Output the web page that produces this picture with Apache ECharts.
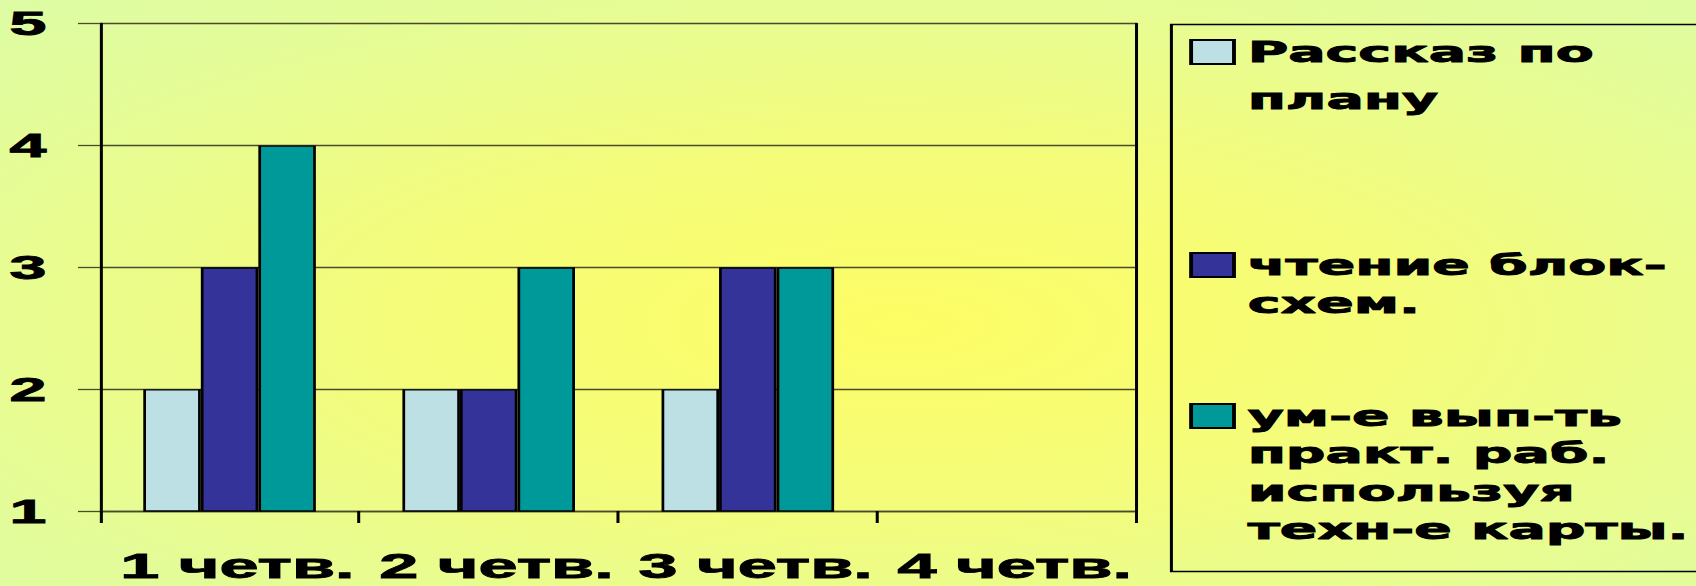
<!DOCTYPE html>
<html>
<head>
<meta charset="utf-8">
<script src="https://cdn.jsdelivr.net/npm/echarts@6/dist/echarts.min.js"></script>
<style>
  html, body { margin: 0; padding: 0; overflow: hidden; background: #e4fc9c; }
  /* the original slide is stretched sideways, so the chart is drawn narrow and scaled */
  #echart { width: 870px; height: 586px; transform: scaleX(1.94943); transform-origin: 0 0; }
</style>
</head>
<body>
<div id="echart"></div>
<script>
const categories = ['1 четв.', '2 четв.', '3 четв.', '4 четв.'];
const seriesNames = [
  'Рассказ по\nплану',
  'чтение блок-\nсхем.',
  'ум-е вып-ть\nпракт. раб.\nиспользуя\nтехн-е карты.'
];
const rasskaz = [2, 2, 2, null];
const chtenie = [3, 2, 3, null];
const umenie = [4, 3, 3, null];
const seriesData = [rasskaz, chtenie, umenie];
const colors = ['#bce0e4', '#343399', '#009999'];
const yMin = 1, yMax = 5, yStep = 1;

const gridLine = { color: '#4a4a2c', width: 1.3 };
const blackLine = { color: '#000', width: 1.55 };
const heavy = { color: '#000', fontWeight: 'bold', textBorderColor: '#000', textBorderWidth: 0.9 };

// one legend per series so the first text line can sit on the marker
const legendCenters = [52, 265, 416];
const legendLineHeights = [47, 38, 37.5];

const legends = seriesNames.map((name, i) => {
  const n = name.split('\n').length;
  const lh = legendLineHeights[i];
  return {
    data: [name],
    orient: 'vertical',
    left: 610,
    top: legendCenters[i] - (2 * n - 1) * lh / 2,
    padding: 0,
    itemWidth: 22,
    itemHeight: 24,
    icon: 'rect',
    selectedMode: false,
    // blank lines above keep the block centred on the first line
    formatter: (label) => '\n'.repeat(n - 1) + label,
    textStyle: {
      ...heavy,
      fontFamily: 'DejaVu Sans',
      fontSize: 28.4,
      lineHeight: lh,
      padding: [0, 0, 0, 2]
    }
  };
});

const option = {
  animation: false,
  backgroundColor: {
    type: 'radial', x: 0.53, y: 0.555, r: 1.0,
    colorStops: [
      { offset: 0, color: '#fdfd64' },
      { offset: 0.3, color: '#f4fc7a' },
      { offset: 0.6, color: '#e4fc98' },
      { offset: 1, color: '#d2fcb4' }
    ]
  },
  textStyle: { fontFamily: 'Liberation Sans' },
  grid: { left: 51.3, right: 287, top: 23.5, bottom: 75 },
  legend: legends,
  graphic: [{
    type: 'rect', left: 598.4, top: 22, z: -1,
    shape: { x: 0, y: 0, width: 300, height: 547 },
    style: { fill: 'none', stroke: '#000', lineWidth: 1.55 }
  }],
  xAxis: {
    type: 'category',
    data: categories,
    axisLine: { show: true, lineStyle: gridLine },
    axisTick: { show: true, length: 12, lineStyle: blackLine },
    axisLabel: {
      ...heavy,
      interval: 0, margin: 40, lineHeight: 30, fontSize: 36,
      padding: [0, 0, 0, 8], fontFamily: 'Liberation Sans'
    }
  },
  yAxis: [{
    type: 'value', min: yMin, max: yMax, interval: yStep,
    axisLine: { show: true, lineStyle: blackLine },
    axisTick: { show: true, length: 11.3, lineStyle: gridLine },
    splitLine: { show: true, lineStyle: gridLine },
    axisLabel: {
      ...heavy,
      margin: 27.5, fontSize: 34, fontFamily: 'Liberation Sans'
    }
  }, {
    type: 'value', position: 'right', min: yMin, max: yMax, interval: yStep,
    axisLine: { show: true, lineStyle: blackLine },
    axisTick: { show: false }, axisLabel: { show: false }, splitLine: { show: false }
  }],
  series: seriesNames.map((name, i) => ({
    name: name,
    type: 'bar',
    data: seriesData[i],
    barGap: '0%',
    barCategoryGap: '33.4%',
    clip: true,
    itemStyle: { color: colors[i], borderColor: '#000', borderWidth: 1.4 }
  }))
};

const echart = echarts.init(document.getElementById('echart'), null, { renderer: 'svg' });
echart.setOption(option);
</script>
</body>
</html>
